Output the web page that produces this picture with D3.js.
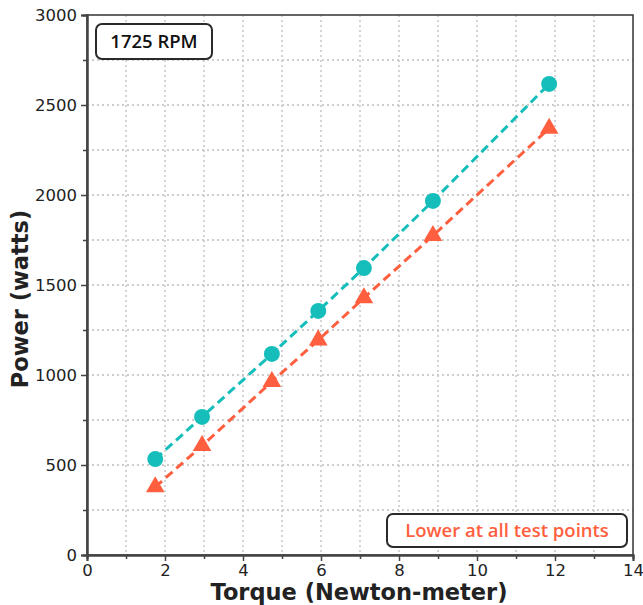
<!DOCTYPE html>
<html>
<head>
<meta charset="utf-8">
<script src="https://cdn.jsdelivr.net/npm/d3@7"></script>
<style>
  body { margin: 0; background: #fff; }
  svg text { font-family: "DejaVu Sans", sans-serif; }
</style>
</head>
<body>
<div id="chart"></div>
<script>
// Dados
const torque = [1.75, 2.95, 4.74, 5.93, 7.10, 8.87, 11.85];
const powerA = [533, 767, 1117, 1356, 1594, 1967, 2617];
const powerB = [378, 607, 963, 1194, 1428, 1774, 2370];
const xTicks = [0, 2, 4, 6, 8, 10, 12, 14];
const yTicks = [0, 500, 1000, 1500, 2000, 2500, 3000];

const W = 643, H = 605;
const margin = { top: 15, right: 10, bottom: 50, left: 87 };
const width = W - margin.left - margin.right;
const height = H - margin.top - margin.bottom;

const svg = d3.select("#chart").append("svg")
    .attr("width", W).attr("height", H);
const g = svg.append("g").attr("transform", `translate(${margin.left},${margin.top})`);

const x = d3.scaleLinear().domain([0, 14]).range([0, width]);
const y = d3.scaleLinear().domain([0, 3000]).range([height, 0]);

const teal = "#16bebb";
const orange = "#ff5f3f";

// Grade pontilhada
g.append("g").selectAll("line").data(d3.range(1, 14)).join("line")
    .attr("x1", d => x(d)).attr("x2", d => x(d))
    .attr("y1", 0).attr("y2", height)
    .attr("stroke", "#bdbdbd").attr("stroke-width", 1.3).attr("stroke-dasharray", "2,3");
g.append("g").selectAll("line").data(d3.range(250, 3000, 250)).join("line")
    .attr("y1", d => y(d)).attr("y2", d => y(d))
    .attr("x1", 0).attr("x2", width)
    .attr("stroke", "#bdbdbd").attr("stroke-width", 1.3).attr("stroke-dasharray", "2,3");

// Moldura
g.append("rect").attr("width", width).attr("height", height)
    .attr("fill", "none").attr("stroke", "#333").attr("stroke-width", 1.5);

// Eixos
const xMinor = g.append("g").attr("transform", `translate(0,${height})`)
    .call(d3.axisBottom(x).tickValues(d3.range(1, 14, 2)).tickSize(4).tickFormat(""));
const xAxis = g.append("g").attr("transform", `translate(0,${height})`)
    .call(d3.axisBottom(x).tickValues(xTicks).tickSize(6).tickPadding(3).tickFormat(d3.format("d")));
const yMinor = g.append("g")
    .call(d3.axisLeft(y).tickValues(d3.range(250, 3000, 500)).tickSize(4).tickFormat(""));
const yAxis = g.append("g")
    .call(d3.axisLeft(y).tickValues(yTicks).tickSize(6).tickPadding(4).tickFormat(d3.format("d")));

[xMinor, xAxis, yMinor, yAxis].forEach(a => {
    a.select(".domain").attr("stroke", "#444").attr("stroke-width", 2);
    a.selectAll(".tick line").attr("stroke", "#444").attr("stroke-width", 1.5);
    a.selectAll(".tick text").attr("fill", "#222").style("font-size", "16.5px");
});

// Títulos dos eixos
svg.append("text")
    .attr("x", margin.left + width / 2 - 1).attr("y", 600)
    .attr("text-anchor", "middle")
    .style("font-size", "22.5px").style("font-weight", "bold").attr("fill", "#222")
    .text("Torque (Newton-meter)");
svg.append("text")
    .attr("transform", `translate(28,${margin.top + height / 2 + 14}) rotate(-90)`)
    .attr("text-anchor", "middle")
    .style("font-size", "22.5px").style("font-weight", "bold").attr("fill", "#222")
    .text("Power (watts)");

// Linhas
const line = d3.line().x(d => x(d[0])).y(d => y(d[1]));
const series = [
    { vals: powerA, color: teal, shape: d3.symbolCircle },
    { vals: powerB, color: orange, shape: d3.symbolTriangle }
];
series.forEach(s => {
    const pts = torque.map((t, i) => [t, s.vals[i]]);
    g.append("path").datum(pts)
        .attr("fill", "none").attr("stroke", s.color)
        .attr("stroke-width", 3).attr("stroke-dasharray", "9,5")
        .attr("d", line);
    g.selectAll(null).data(pts).join("path")
        .attr("transform", d => `translate(${x(d[0])},${y(d[1])})`)
        .attr("d", d3.symbol().type(s.shape).size(s.shape === d3.symbolCircle ? 200 : 150))
        .attr("fill", s.color);
});

// Caixas de texto
function labelBox(x0, y0, w, h, txt, color) {
    svg.append("rect").attr("x", x0).attr("y", y0).attr("width", w).attr("height", h)
        .attr("rx", 6).attr("fill", "#fff").attr("stroke", "#2a2a2a").attr("stroke-width", 2);
    svg.append("text").attr("x", x0 + w / 2).attr("y", y0 + h / 2 + 6.5)
        .attr("text-anchor", "middle").attr("fill", color)
        .style("font-family", "'Open Sans', sans-serif")
        .style("font-size", "18.5px").style("font-weight", "600")
        .text(txt);
}
labelBox(96, 24, 116, 35, "1725 RPM", "#111");
labelBox(387, 514, 240, 33, "Lower at all test points", orange);
</script>
</body>
</html>
